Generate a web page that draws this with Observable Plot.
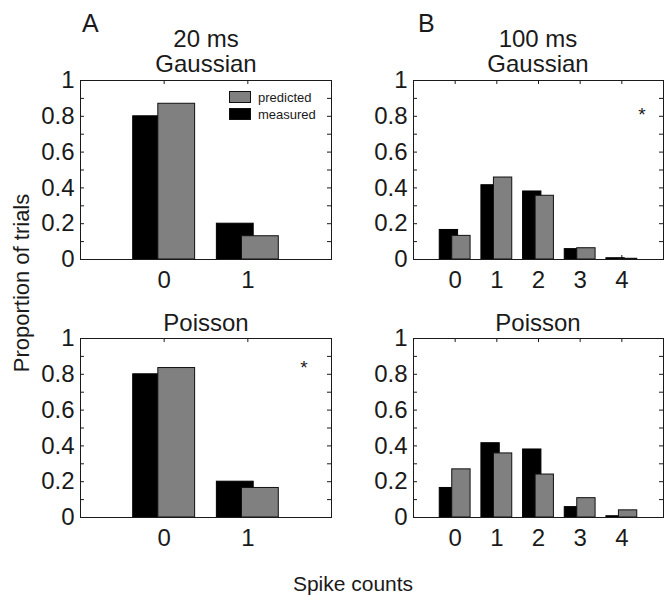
<!DOCTYPE html>
<html>
<head>
<meta charset="utf-8">
<script src="https://cdn.jsdelivr.net/npm/d3@7"></script>
<script src="https://cdn.jsdelivr.net/npm/@observablehq/plot@0.6"></script>
<style>
  body { margin: 0; background: #fff; }
  #fig { position: relative; width: 664px; height: 595px; background: #fff;
         font-family: "Liberation Sans", Arial, Helvetica, sans-serif; }
  #fig .panel { position: absolute; }
  #fig .panel svg { background: transparent; overflow: visible; }
  #overlay { position: absolute; left: 0; top: 0; pointer-events: none; }
</style>
</head>
<body>
<div id="fig"></div>
<script>
// Spike-count distributions: measured vs. predicted proportions of trials
const countsShort = [0, 1];            // 20 ms window
const countsLong = [0, 1, 2, 3, 4];    // 100 ms window

const measuredShort = [0.80, 0.20];
const gaussianShort = [0.87, 0.13];
const poissonShort = [0.835, 0.165];

const measuredLong = [0.165, 0.415, 0.38, 0.058, 0.007];
const gaussianLong = [0.132, 0.458, 0.356, 0.063, 0.004];
const poissonLong = [0.269, 0.358, 0.24, 0.108, 0.04];

const yTicks = [0, 0.2, 0.4, 0.6, 0.8, 1];
const yTickLabels = ["0", "0.2", "0.4", "0.6", "0.8", "1"];
const yMinorTicks = [0.1, 0.2, 0.3, 0.4, 0.5, 0.6, 0.7, 0.8, 0.9];

const seriesNames = ["predicted", "measured"];
const panelLetters = ["A", "B"];
const windowLabels = ["20 ms", "100 ms"];
const modelLabels = ["Gaussian", "Poisson"];
const yTitle = "Proportion of trials";
const xTitle = "Spike counts";

const FONT = '"Liberation Sans", Arial, Helvetica, sans-serif';
const INK = "#1a1a1a";
const GRAY = "#808080";
const BAR_W = 0.44;      // width of each bar, in count units
const BAR_SHIFT = 0.15;  // offset of each bar from the group centre

const fig = document.getElementById("fig");

function panel({counts, measured, predicted, left, top, frameW, frameH}) {
  const rows = counts.map((c, i) => ({count: c, measured: measured[i], predicted: predicted[i]}));
  const mL = 60, mT = 20, mR = 1, mB = 40;
  const chart = Plot.plot({
    width: mL + frameW + mR,
    height: mT + frameH + mB,
    marginLeft: mL, marginTop: mT, marginRight: mR, marginBottom: mB,
    style: {fontFamily: FONT, fontSize: "24px", color: INK, background: "transparent", overflow: "visible"},
    x: {type: "linear", domain: [-1, counts.length], axis: null},
    y: {domain: [0, 1], axis: null},
    marks: [
      // inward ticks on all four sides
      Plot.tickY(yMinorTicks, {y: d => d, insetRight: frameW - 4, stroke: INK}),
      Plot.tickY(yMinorTicks, {y: d => d, insetLeft: frameW - 4, stroke: INK}),
      Plot.tickX(counts, {x: d => d, insetBottom: frameH - 4, stroke: INK}),
      Plot.tickX(counts, {x: d => d, insetTop: frameH - 4, stroke: INK}),
      // measured (black) behind, predicted (gray) in front
      Plot.rectY(rows, {
        x1: d => d.count - BAR_SHIFT - BAR_W / 2,
        x2: d => d.count - BAR_SHIFT + BAR_W / 2,
        y: "measured", fill: "#000", stroke: "#000", strokeWidth: 1
      }),
      Plot.rectY(rows, {
        x1: d => d.count + BAR_SHIFT - BAR_W / 2,
        x2: d => d.count + BAR_SHIFT + BAR_W / 2,
        y: "predicted", fill: GRAY, stroke: "#111", strokeWidth: 1
      }),
      Plot.axisY({ticks: yTicks, tickSize: 0, tickPadding: 6, fontSize: 24,
                  tickFormat: d => yTickLabels[yTicks.indexOf(d)]}),
      Plot.axisX({ticks: counts, tickSize: 0, tickPadding: 11, fontSize: 24,
                  tickFormat: d => String(d)}),
      Plot.frame({stroke: INK, strokeWidth: 1})
    ]
  });
  const wrap = document.createElement("div");
  wrap.className = "panel";
  wrap.style.left = left + "px";
  wrap.style.top = top + "px";
  wrap.appendChild(chart);
  fig.appendChild(wrap);
}

panel({counts: countsShort, measured: measuredShort, predicted: gaussianShort, left: 20, top: 60, frameW: 251, frameH: 179});
panel({counts: countsLong, measured: measuredLong, predicted: gaussianLong, left: 353, top: 60, frameW: 250, frameH: 179});
panel({counts: countsShort, measured: measuredShort, predicted: poissonShort, left: 20, top: 318, frameW: 251, frameH: 179});
panel({counts: countsLong, measured: measuredLong, predicted: poissonLong, left: 353, top: 318, frameW: 250, frameH: 179});

// Titles, legend and annotations
const svg = d3.select(fig).append("svg")
  .attr("id", "overlay")
  .attr("width", 664).attr("height", 595)
  .style("font-family", FONT).attr("fill", INK);

function label(txt, x, y, size, anchor = "middle", rotate = 0) {
  const t = svg.append("text").text(txt)
    .attr("font-size", size).attr("text-anchor", anchor);
  if (rotate) t.attr("transform", `translate(${x},${y}) rotate(${rotate})`);
  else t.attr("x", x).attr("y", y);
  return t;
}

label(panelLetters[0], 82, 32, 25, "start");
label(panelLetters[1], 418, 32, 25, "start");
label(windowLabels[0], 206, 47, 24);
label(windowLabels[1], 538, 47, 24);
label(modelLabels[0], 206, 72, 24);
label(modelLabels[0], 538, 72, 24);
label(modelLabels[1], 206, 331, 24);
label(modelLabels[1], 538, 331, 24);
label(yTitle, 29, 283, 22, "middle", -90);
label(xTitle, 353, 591, 21);

// significance markers
label("*", 642, 121, 19);
label("*", 304, 374, 19);

// legend
const legendRows = [
  {name: seriesNames[0], fill: GRAY, y: 91},
  {name: seriesNames[1], fill: "#000", y: 108}
];
legendRows.forEach(r => {
  svg.append("rect").attr("x", 229.5).attr("y", r.y + 0.5).attr("width", 21).attr("height", 11)
    .attr("fill", r.fill).attr("stroke", "#111");
  svg.append("text").text(r.name).attr("x", 258).attr("y", r.y + 10.5)
    .attr("font-size", 13);
});
</script>
</body>
</html>
